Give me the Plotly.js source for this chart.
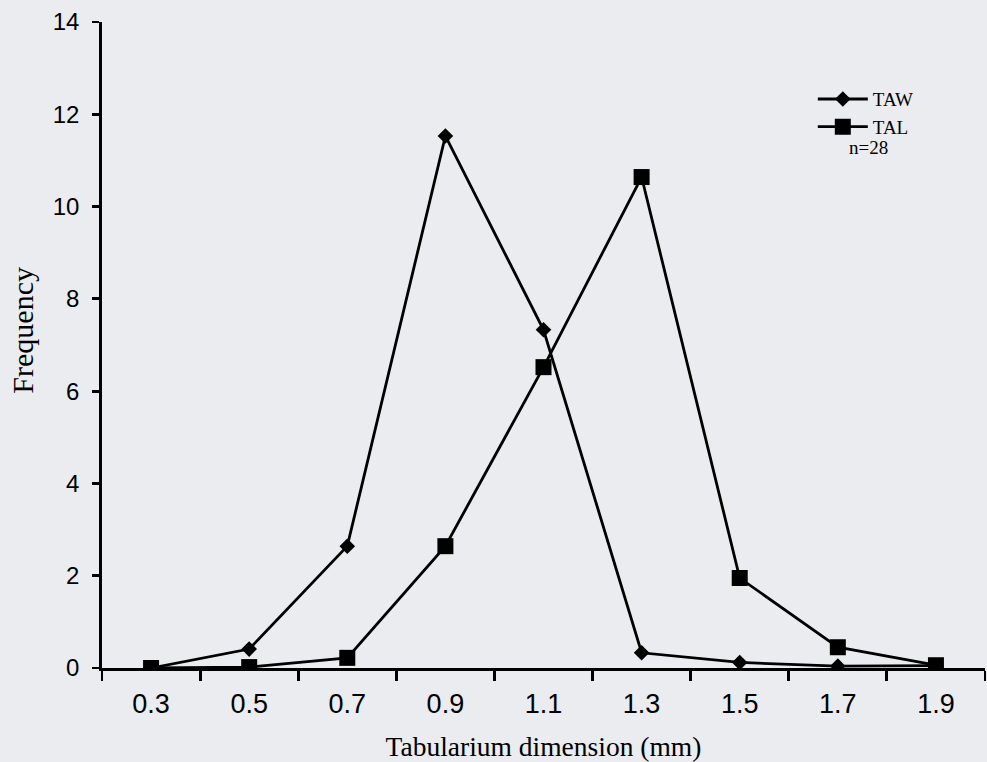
<!DOCTYPE html>
<html>
<head>
<meta charset="utf-8">
<script src="https://cdn.plot.ly/plotly-3.0.1.min.js"></script>
<style>html,body{margin:0;padding:0;background:#eaecf0;}#chart{width:987px;height:762px;}</style>
</head>
<body>
<div id="chart"></div>
<script>
const categories = ["0.3","0.5","0.7","0.9","1.1","1.3","1.5","1.7","1.9"];
const tawValues = [0, 0.41, 2.64, 11.53, 7.33, 0.33, 0.12, 0.04, 0.05];
const talValues = [0, 0.02, 0.22, 2.64, 6.52, 10.64, 1.95, 0.45, 0.06];
const yTicks = [0, 2, 4, 6, 8, 10, 12, 14];

const serif = "Liberation Serif, Times New Roman, serif";
const sans = "Liberation Sans, Arial, sans-serif";

const traces = [
  {x: categories, y: tawValues, name: "TAW", mode: "lines+markers", type: "scatter",
   line: {color: "#000", width: 2.8}, marker: {symbol: "diamond", size: 12, color: "#000"}},
  {x: categories, y: talValues, name: "TAL", mode: "lines+markers", type: "scatter",
   line: {color: "#000", width: 2.8}, marker: {symbol: "square", size: 16, color: "#000"}}
];

const layout = {
  width: 987, height: 762,
  margin: {l: 102, r: 2, t: 22, b: 94},
  paper_bgcolor: "#eaecf0", plot_bgcolor: "rgba(0,0,0,0)",
  showlegend: true,
  legend: {x: 0.805, y: 0.91, xanchor: "left", yanchor: "top", bgcolor: "rgba(0,0,0,0)",
           font: {family: serif, size: 19, color: "#000"}, itemwidth: 50},
  xaxis: {type: "category", range: [-0.5, 8.5], tickson: "boundaries",
          showline: true, linecolor: "#000", linewidth: 2.8, showgrid: false, zeroline: false,
          ticks: "outside", ticklen: 10, tickwidth: 2.8, tickcolor: "#000",
          ticklabelstandoff: 10,
          tickfont: {family: sans, size: 27, color: "#000"},
          title: {text: "Tabularium dimension (mm)", standoff: 19,
                  font: {family: serif, size: 27.5, color: "#000"}}},
  yaxis: {range: [0, 14], tickvals: yTicks, ticktext: yTicks.map(String),
          showline: true, linecolor: "#000", linewidth: 2.8, showgrid: false, zeroline: false,
          ticks: "outside", ticklen: 7, tickwidth: 2.8, tickcolor: "#000",
          ticklabelstandoff: 8,
          tickfont: {family: sans, size: 24, color: "#000"}},
  annotations: [
    {text: "Frequency", xref: "paper", yref: "paper", x: -0.09, y: 0.523, xanchor: "center", yanchor: "middle",
     textangle: -90, showarrow: false, font: {family: serif, size: 30, color: "#000"}},
    {text: "n=28", xref: "paper", yref: "paper", x: 0.8675, y: 0.8065, xanchor: "center", yanchor: "middle",
     showarrow: false, font: {family: serif, size: 19, color: "#000"}}
  ]
};

Plotly.newPlot("chart", traces, layout, {displayModeBar: false, staticPlot: true});
</script>
</body>
</html>
